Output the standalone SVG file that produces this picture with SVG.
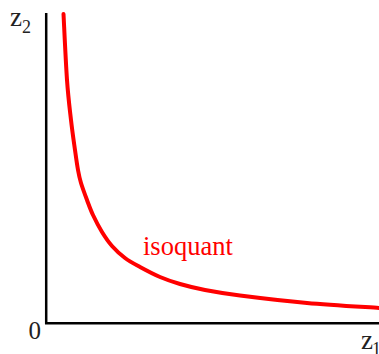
<svg xmlns="http://www.w3.org/2000/svg" width="379" height="354" viewBox="0 0 379 354">
<style>
.ax{stroke:#000;stroke-width:2.5;fill:none}
.curve{stroke:#ff0000;stroke-width:4;fill:none;stroke-linejoin:round;stroke-linecap:round}
.lbl{font-family:"Liberation Serif",serif;fill:#222}
.red{font-family:"Liberation Serif",serif;fill:#ff0000}
</style>
<g id="axes">
<path class="ax" d="M46.2,13 V323.3 H379"/>
</g>
<g id="isoquant-curve">
<path class="curve" d="M63.5,14 C64.08,25 65.75,62.33 67,80 C68.25,97.67 69.67,108.33 71,120 C72.33,131.67 73.83,141.67 75,150 C76.17,158.33 77,164.5 78,170 C79,175.5 79.5,178 81,183 C82.5,188 85,194.67 87,200 C89,205.33 90.5,209.67 93,215 C95.5,220.33 98.83,226.83 102,232 C105.17,237.17 108.17,241.67 112,246 C115.83,250.33 120.33,254.5 125,258 C129.67,261.5 134.17,263.83 140,267 C145.83,270.17 153.33,274.17 160,277 C166.67,279.83 172.5,281.83 180,284 C187.5,286.17 195,288.08 205,290 C215,291.92 223,293.33 240,295.5 C257,297.67 283.83,300.92 307,303 C330.17,305.08 367,307.17 379,308"/>
</g>
<g id="labels">
<text class="lbl" x="10" y="26" font-size="27">z</text>
<text class="lbl" x="22" y="33" font-size="18">2</text>
<text class="lbl" x="28.5" y="339" font-size="25">0</text>
<text class="lbl" x="361" y="349" font-size="27">z</text>
<text class="lbl" x="372" y="355" font-size="18">1</text>
<text class="red" x="143" y="255" font-size="26.5">isoquant</text>
</g>
</svg>
